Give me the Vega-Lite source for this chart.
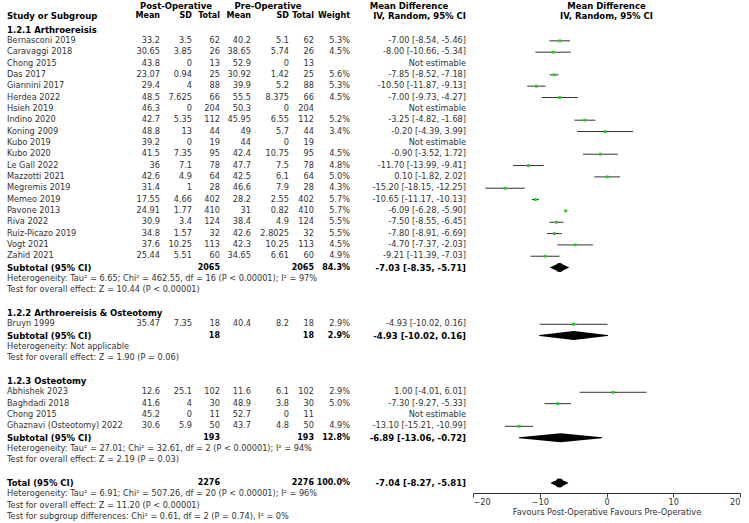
{
 "$schema": "https://vega.github.io/schema/vega-lite/v6.json",
 "width": 749, "height": 523,
 "autosize": {"type": "none"}, "padding": 0,
 "background": "white",
 "config": {"view": {"stroke": null}, "text": {"font": "DejaVu Sans", "fontSize": 8.2, "baseline": "middle"}},
 "datasets": {
  "cols": [{"k":"pm","c":1},{"k":"psd","c":2},{"k":"pn","c":3},{"k":"qm","c":4},{"k":"qsd","c":5},{"k":"qn","c":6},{"k":"w","c":7},{"k":"md","c":8}],
  "dia": [{"p":"lo","h":0},{"p":"est","h":1},{"p":"hi","h":0}],
  "tbl": [
   {"row":-1.15,"label":"Study or Subgroup","b":1,"pm":"Mean","psd":"SD","pn":"Total","qm":"Mean","qsd":"SD","qn":"Total","w":"Weight","md":"IV, Random, 95% CI"},
   {"row":0,"label":"1.2.1 Arthroereisis","b":1},
   {"row":1,"label":"Bernasconi 2019","b":0,"pm":"33.2","psd":"3.5","pn":"62","qm":"40.2","qsd":"5.1","qn":"62","w":"5.3%","md":"-7.00 [-8.54, -5.46]"},
   {"row":2,"label":"Caravaggi 2018","b":0,"pm":"30.65","psd":"3.85","pn":"26","qm":"38.65","qsd":"5.74","qn":"26","w":"4.5%","md":"-8.00 [-10.66, -5.34]"},
   {"row":3,"label":"Chong 2015","b":0,"pm":"43.8","psd":"0","pn":"13","qm":"52.9","qsd":"0","qn":"13","md":"Not estimable"},
   {"row":4,"label":"Das 2017","b":0,"pm":"23.07","psd":"0.94","pn":"25","qm":"30.92","qsd":"1.42","qn":"25","w":"5.6%","md":"-7.85 [-8.52, -7.18]"},
   {"row":5,"label":"Giannini 2017","b":0,"pm":"29.4","psd":"4","pn":"88","qm":"39.9","qsd":"5.2","qn":"88","w":"5.3%","md":"-10.50 [-11.87, -9.13]"},
   {"row":6,"label":"Herdea 2022","b":0,"pm":"48.5","psd":"7.625","pn":"66","qm":"55.5","qsd":"8.375","qn":"66","w":"4.5%","md":"-7.00 [-9.73, -4.27]"},
   {"row":7,"label":"Hsieh 2019","b":0,"pm":"46.3","psd":"0","pn":"204","qm":"50.3","qsd":"0","qn":"204","md":"Not estimable"},
   {"row":8,"label":"Indino 2020","b":0,"pm":"42.7","psd":"5.35","pn":"112","qm":"45.95","qsd":"6.55","qn":"112","w":"5.2%","md":"-3.25 [-4.82, -1.68]"},
   {"row":9,"label":"Koning 2009","b":0,"pm":"48.8","psd":"13","pn":"44","qm":"49","qsd":"5.7","qn":"44","w":"3.4%","md":"-0.20 [-4.39, 3.99]"},
   {"row":10,"label":"Kubo 2019","b":0,"pm":"39.2","psd":"0","pn":"19","qm":"44","qsd":"0","qn":"19","md":"Not estimable"},
   {"row":11,"label":"Kubo 2020","b":0,"pm":"41.5","psd":"7.35","pn":"95","qm":"42.4","qsd":"10.75","qn":"95","w":"4.5%","md":"-0.90 [-3.52, 1.72]"},
   {"row":12,"label":"Le Gall 2022","b":0,"pm":"36","psd":"7.1","pn":"78","qm":"47.7","qsd":"7.5","qn":"78","w":"4.8%","md":"-11.70 [-13.99, -9.41]"},
   {"row":13,"label":"Mazzotti 2021","b":0,"pm":"42.6","psd":"4.9","pn":"64","qm":"42.5","qsd":"6.1","qn":"64","w":"5.0%","md":"0.10 [-1.82, 2.02]"},
   {"row":14,"label":"Megremis 2019","b":0,"pm":"31.4","psd":"1","pn":"28","qm":"46.6","qsd":"7.9","qn":"28","w":"4.3%","md":"-15.20 [-18.15, -12.25]"},
   {"row":15,"label":"Memeo 2019","b":0,"pm":"17.55","psd":"4.66","pn":"402","qm":"28.2","qsd":"2.55","qn":"402","w":"5.7%","md":"-10.65 [-11.17, -10.13]"},
   {"row":16,"label":"Pavone 2013","b":0,"pm":"24.91","psd":"1.77","pn":"410","qm":"31","qsd":"0.82","qn":"410","w":"5.7%","md":"-6.09 [-6.28, -5.90]"},
   {"row":17,"label":"Riva 2022","b":0,"pm":"30.9","psd":"3.4","pn":"124","qm":"38.4","qsd":"4.9","qn":"124","w":"5.5%","md":"-7.50 [-8.55, -6.45]"},
   {"row":18,"label":"Ruiz-Picazo 2019","b":0,"pm":"34.8","psd":"1.57","pn":"32","qm":"42.6","qsd":"2.8025","qn":"32","w":"5.5%","md":"-7.80 [-8.91, -6.69]"},
   {"row":19,"label":"Vogt 2021","b":0,"pm":"37.6","psd":"10.25","pn":"113","qm":"42.3","qsd":"10.25","qn":"113","w":"4.5%","md":"-4.70 [-7.37, -2.03]"},
   {"row":20,"label":"Zahid 2021","b":0,"pm":"25.44","psd":"5.51","pn":"60","qm":"34.65","qsd":"6.61","qn":"60","w":"4.9%","md":"-9.21 [-11.39, -7.03]"},
   {"row":21,"label":"Subtotal (95% CI)","b":1,"pn":"2065","qn":"2065","w":"84.3%","md":"-7.03 [-8.35, -5.71]"},
   {"row":22,"label":"Heterogeneity: Tau² = 6.65; Chi² = 462.55, df = 16 (P < 0.00001); I² = 97%","b":0},
   {"row":23,"label":"Test for overall effect: Z = 10.44 (P < 0.00001)","b":0},
   {"row":25,"label":"1.2.2 Arthroereisis & Osteotomy","b":1},
   {"row":26,"label":"Bruyn 1999","b":0,"pm":"35.47","psd":"7.35","pn":"18","qm":"40.4","qsd":"8.2","qn":"18","w":"2.9%","md":"-4.93 [-10.02, 0.16]"},
   {"row":27,"label":"Subtotal (95% CI)","b":1,"pn":"18","qn":"18","w":"2.9%","md":"-4.93 [-10.02, 0.16]"},
   {"row":28,"label":"Heterogeneity: Not applicable","b":0},
   {"row":29,"label":"Test for overall effect: Z = 1.90 (P = 0.06)","b":0},
   {"row":31,"label":"1.2.3 Osteotomy","b":1},
   {"row":32,"label":"Abhishek 2023","b":0,"pm":"12.6","psd":"25.1","pn":"102","qm":"11.6","qsd":"6.1","qn":"102","w":"2.9%","md":"1.00 [-4.01, 6.01]"},
   {"row":33,"label":"Baghdadi 2018","b":0,"pm":"41.6","psd":"4","pn":"30","qm":"48.9","qsd":"3.8","qn":"30","w":"5.0%","md":"-7.30 [-9.27, -5.33]"},
   {"row":34,"label":"Chong 2015","b":0,"pm":"45.2","psd":"0","pn":"11","qm":"52.7","qsd":"0","qn":"11","md":"Not estimable"},
   {"row":35,"label":"Ghaznavi (Osteotomy) 2022","b":0,"pm":"30.6","psd":"5.9","pn":"50","qm":"43.7","qsd":"4.8","qn":"50","w":"4.9%","md":"-13.10 [-15.21, -10.99]"},
   {"row":36,"label":"Subtotal (95% CI)","b":1,"pn":"193","qn":"193","w":"12.8%","md":"-6.89 [-13.06, -0.72]"},
   {"row":37,"label":"Heterogeneity: Tau² = 27.01; Chi² = 32.61, df = 2 (P < 0.00001); I² = 94%","b":0},
   {"row":38,"label":"Test for overall effect: Z = 2.19 (P = 0.03)","b":0},
   {"row":40,"label":"Total (95% CI)","b":1,"pn":"2276","qn":"2276","w":"100.0%","md":"-7.04 [-8.27, -5.81]"},
   {"row":41,"label":"Heterogeneity: Tau² = 6.91; Chi² = 507.26, df = 20 (P < 0.00001); I² = 96%","b":0},
   {"row":42,"label":"Test for overall effect: Z = 11.20 (P < 0.00001)","b":0},
   {"row":43,"label":"Test for subgroup differences: Chi² = 0.61, df = 2 (P = 0.74), I² = 0%","b":0}
  ],
  "fp": [
   {"row":1,"est":-7.0,"lo":-8.54,"hi":-5.46,"kind":"s"},
   {"row":2,"est":-8.0,"lo":-10.66,"hi":-5.34,"kind":"s"},
   {"row":4,"est":-7.85,"lo":-8.52,"hi":-7.18,"kind":"s"},
   {"row":5,"est":-10.5,"lo":-11.87,"hi":-9.13,"kind":"s"},
   {"row":6,"est":-7.0,"lo":-9.73,"hi":-4.27,"kind":"s"},
   {"row":8,"est":-3.25,"lo":-4.82,"hi":-1.68,"kind":"s"},
   {"row":9,"est":-0.2,"lo":-4.39,"hi":3.99,"kind":"s"},
   {"row":11,"est":-0.9,"lo":-3.52,"hi":1.72,"kind":"s"},
   {"row":12,"est":-11.7,"lo":-13.99,"hi":-9.41,"kind":"s"},
   {"row":13,"est":0.1,"lo":-1.82,"hi":2.02,"kind":"s"},
   {"row":14,"est":-15.2,"lo":-18.15,"hi":-12.25,"kind":"s"},
   {"row":15,"est":-10.65,"lo":-11.17,"hi":-10.13,"kind":"s"},
   {"row":16,"est":-6.09,"lo":-6.28,"hi":-5.9,"kind":"s"},
   {"row":17,"est":-7.5,"lo":-8.55,"hi":-6.45,"kind":"s"},
   {"row":18,"est":-7.8,"lo":-8.91,"hi":-6.69,"kind":"s"},
   {"row":19,"est":-4.7,"lo":-7.37,"hi":-2.03,"kind":"s"},
   {"row":20,"est":-9.21,"lo":-11.39,"hi":-7.03,"kind":"s"},
   {"row":21,"est":-7.03,"lo":-8.35,"hi":-5.71,"kind":"d"},
   {"row":26,"est":-4.93,"lo":-10.02,"hi":0.16,"kind":"s"},
   {"row":27,"est":-4.93,"lo":-10.02,"hi":0.16,"kind":"d"},
   {"row":32,"est":1.0,"lo":-4.01,"hi":6.01,"kind":"s"},
   {"row":33,"est":-7.3,"lo":-9.27,"hi":-5.33,"kind":"s"},
   {"row":35,"est":-13.1,"lo":-15.21,"hi":-10.99,"kind":"s"},
   {"row":36,"est":-6.89,"lo":-13.06,"hi":-0.72,"kind":"d"},
   {"row":40,"est":-7.04,"lo":-8.27,"hi":-5.81,"kind":"d"}
  ],
  "hdr": [
   {"row":-2.08,"c":9,"t":"Post-Operative"},
   {"row":-2.08,"c":10,"t":"Pre-Operative"},
   {"row":-2.08,"c":11,"t":"Mean Difference"}
  ],
  "fhdr": [
   {"row":-2.08,"x":0,"t":"Mean Difference"},
   {"row":-1.15,"x":0,"t":"IV, Random, 95% CI"}
  ]
 },
 "resolve": {"scale": {"x": "independent"}, "axis": {"x": "independent"}},
 "layer": [
  {"mark": {"type": "rule", "color": "#999999", "strokeWidth": 1.5},
   "encoding": {"y": {"datum": -0.66, "type": "quantitative", "scale": {"domain": [0, 43], "range": [29.5, 517], "zero": false, "nice": false}, "axis": null}}},
  {"mark": {"type": "rule", "color": "#999999", "strokeWidth": 1.5},
   "encoding": {
    "x": {"datum": 0, "type": "quantitative", "scale": {"domain": [-20, 20], "range": [473, 740], "zero": false, "nice": false}, "axis": null},
    "y": {"datum": -0.66, "type": "quantitative", "scale": {"domain": [0, 43], "range": [29.5, 517], "zero": false, "nice": false}, "axis": null},
    "y2": {"datum": 40.88}}},
  {"data": {"name": "fp"}, "transform": [{"filter": "datum.kind == 's'"}],
   "mark": {"type": "rule", "color": "#333333", "strokeWidth": 1},
   "encoding": {
    "x": {"field": "lo", "type": "quantitative", "scale": {"domain": [-20, 20], "range": [473, 740], "zero": false, "nice": false},
     "axis": {"orient": "bottom", "offset": -30, "values": [-20, -10, 0, 10, 20], "format": "d", "grid": false, "tickSize": 4, "tickColor": "#333333", "domainColor": "#333333", "labelFont": "DejaVu Sans", "labelFontSize": 8.2, "labelColor": "#333333", "labelPadding": 1, "title": "Favours Post-Operative  Favours Pre-Operative", "titleFont": "DejaVu Sans", "titleFontSize": 8.2, "titleFontWeight": "normal", "titleColor": "#333333", "titlePadding": 3}},
    "x2": {"field": "hi"},
    "y": {"field": "row", "type": "quantitative", "scale": {"domain": [0, 43], "range": [29.5, 517], "zero": false, "nice": false}, "axis": null}}},
  {"data": {"name": "fp"}, "transform": [{"filter": "datum.kind == 's'"}],
   "mark": {"type": "point", "shape": "square", "filled": true, "color": "#22cc22", "size": 8, "opacity": 1},
   "encoding": {
    "x": {"field": "est", "type": "quantitative", "scale": {"domain": [-20, 20], "range": [473, 740], "zero": false, "nice": false}, "axis": null},
    "y": {"field": "row", "type": "quantitative", "scale": {"domain": [0, 43], "range": [29.5, 517], "zero": false, "nice": false}, "axis": null}}},
  {"data": {"name": "fp"},
   "transform": [{"filter": "datum.kind == 'd'"}, {"fold": ["lo", "est", "hi"], "as": ["p", "v"]},
    {"lookup": "p", "from": {"data": {"name": "dia"}, "key": "p", "fields": ["h"]}}],
   "mark": {"type": "trail", "color": "black"},
   "encoding": {
    "x": {"field": "v", "type": "quantitative", "scale": {"domain": [-20, 20], "range": [473, 740], "zero": false, "nice": false}, "axis": null},
    "y": {"field": "row", "type": "quantitative", "scale": {"domain": [0, 43], "range": [29.5, 517], "zero": false, "nice": false}, "axis": null},
    "size": {"field": "h", "type": "quantitative", "scale": {"domain": [0, 1], "range": [0, 9], "zero": false}, "legend": null},
    "detail": {"field": "row", "type": "nominal"},
    "order": {"field": "v", "type": "quantitative"}}},
  {"data": {"name": "tbl"}, "transform": [{"filter": "datum.b == 0"}],
   "mark": {"type": "text", "align": "left", "color": "#333333"},
   "encoding": {
    "x": {"datum": 0, "type": "quantitative", "scale": {"domain": [0,1,2,3,4,5,6,7,8,9,10,11], "range": [7,160,192,220,251,289,314,350,466,176,268,409], "zero": false, "nice": false}, "axis": null},
    "y": {"field": "row", "type": "quantitative", "scale": {"domain": [0, 43], "range": [29.5, 517], "zero": false, "nice": false}, "axis": null},
    "text": {"field": "label"}}},
  {"data": {"name": "tbl"}, "transform": [{"filter": "datum.b == 1"}],
   "mark": {"type": "text", "align": "left", "color": "black", "fontWeight": "bold", "fontSize": 8.5},
   "encoding": {
    "x": {"datum": 0, "type": "quantitative", "scale": {"domain": [0,1,2,3,4,5,6,7,8,9,10,11], "range": [7,160,192,220,251,289,314,350,466,176,268,409], "zero": false, "nice": false}, "axis": null},
    "y": {"field": "row", "type": "quantitative", "scale": {"domain": [0, 43], "range": [29.5, 517], "zero": false, "nice": false}, "axis": null},
    "text": {"field": "label"}}},
  {"data": {"name": "tbl"},
   "transform": [{"filter": "datum.b == 0"}, {"fold": ["pm","psd","pn","qm","qsd","qn","w","md"], "as": ["k", "v"]},
    {"filter": "isValid(datum.v)"}, {"lookup": "k", "from": {"data": {"name": "cols"}, "key": "k", "fields": ["c"]}}],
   "mark": {"type": "text", "align": "right", "color": "#333333"},
   "encoding": {
    "x": {"field": "c", "type": "quantitative", "scale": {"domain": [0,1,2,3,4,5,6,7,8,9,10,11], "range": [7,160,192,220,251,289,314,350,466,176,268,409], "zero": false, "nice": false}, "axis": null},
    "y": {"field": "row", "type": "quantitative", "scale": {"domain": [0, 43], "range": [29.5, 517], "zero": false, "nice": false}, "axis": null},
    "text": {"field": "v"}}},
  {"data": {"name": "tbl"},
   "transform": [{"filter": "datum.b == 1"}, {"fold": ["pm","psd","pn","qm","qsd","qn","w"], "as": ["k", "v"]},
    {"filter": "isValid(datum.v)"}, {"lookup": "k", "from": {"data": {"name": "cols"}, "key": "k", "fields": ["c"]}}],
   "mark": {"type": "text", "align": "right", "color": "black", "fontWeight": "bold", "fontSize": 8},
   "encoding": {
    "x": {"field": "c", "type": "quantitative", "scale": {"domain": [0,1,2,3,4,5,6,7,8,9,10,11], "range": [7,160,192,220,251,289,314,350,466,176,268,409], "zero": false, "nice": false}, "axis": null},
    "y": {"field": "row", "type": "quantitative", "scale": {"domain": [0, 43], "range": [29.5, 517], "zero": false, "nice": false}, "axis": null},
    "text": {"field": "v"}}},
  {"data": {"name": "tbl"},
   "transform": [{"filter": "datum.b == 1"}, {"fold": ["md"], "as": ["k", "v"]},
    {"filter": "isValid(datum.v)"}, {"lookup": "k", "from": {"data": {"name": "cols"}, "key": "k", "fields": ["c"]}}],
   "mark": {"type": "text", "align": "right", "color": "black", "fontWeight": "bold", "fontSize": 8.5},
   "encoding": {
    "x": {"field": "c", "type": "quantitative", "scale": {"domain": [0,1,2,3,4,5,6,7,8,9,10,11], "range": [7,160,192,220,251,289,314,350,466,176,268,409], "zero": false, "nice": false}, "axis": null},
    "y": {"field": "row", "type": "quantitative", "scale": {"domain": [0, 43], "range": [29.5, 517], "zero": false, "nice": false}, "axis": null},
    "text": {"field": "v"}}},
  {"data": {"name": "hdr"},
   "mark": {"type": "text", "align": "center", "color": "black", "fontWeight": "bold", "fontSize": 8.5},
   "encoding": {
    "x": {"field": "c", "type": "quantitative", "scale": {"domain": [0,1,2,3,4,5,6,7,8,9,10,11], "range": [7,160,192,220,251,289,314,350,466,176,268,409], "zero": false, "nice": false}, "axis": null},
    "y": {"field": "row", "type": "quantitative", "scale": {"domain": [0, 43], "range": [29.5, 517], "zero": false, "nice": false}, "axis": null},
    "text": {"field": "t"}}},
  {"data": {"name": "fhdr"},
   "mark": {"type": "text", "align": "center", "color": "black", "fontWeight": "bold", "fontSize": 8.5},
   "encoding": {
    "x": {"field": "x", "type": "quantitative", "scale": {"domain": [-20, 20], "range": [473, 740], "zero": false, "nice": false}, "axis": null},
    "y": {"field": "row", "type": "quantitative", "scale": {"domain": [0, 43], "range": [29.5, 517], "zero": false, "nice": false}, "axis": null},
    "text": {"field": "t"}}}
 ]
}
